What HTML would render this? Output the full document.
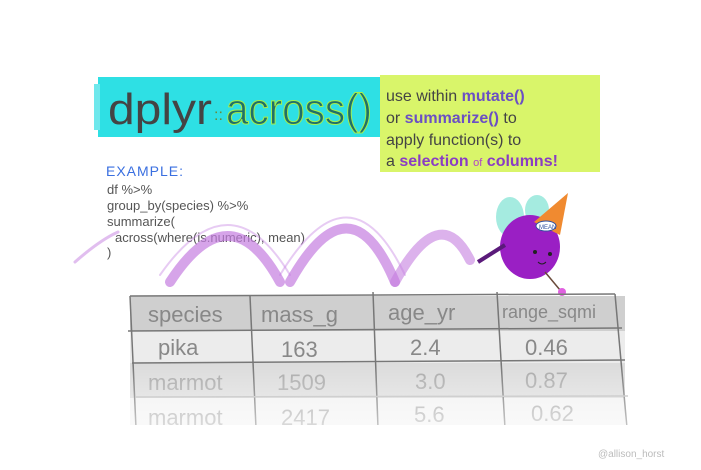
<!DOCTYPE html>
<html><head><meta charset="utf-8"><style>
html,body{margin:0;padding:0;background:#fff;}
svg{display:block;}
text{font-family:"Liberation Sans",sans-serif;}
</style></head><body>
<svg width="701" height="470" viewBox="0 0 701 470" xmlns="http://www.w3.org/2000/svg">
<defs>
<linearGradient id="fade" x1="0" y1="0" x2="0" y2="1">
<stop offset="0" stop-color="#fff" stop-opacity="0"/>
<stop offset="1" stop-color="#fff" stop-opacity="1"/>
</linearGradient>
</defs>
<rect width="701" height="470" fill="#fff"/>
<!-- cyan title box -->
<rect x="98" y="77" width="290" height="60" fill="#2ee0e4"/>
<rect x="94" y="84" width="6" height="46" fill="#6ee8ec"/>
<text x="108" y="124" font-size="44" fill="#444" textLength="104" lengthAdjust="spacingAndGlyphs">dplyr</text>
<text x="214" y="120" font-size="16" fill="#6a8a3a">::</text>
<text x="226" y="124" font-size="44" fill="#1f6f6a" stroke="#a6f04a" stroke-width="1" textLength="146" lengthAdjust="spacingAndGlyphs">across()</text>
<!-- yellow box -->
<rect x="380" y="75" width="220" height="97" fill="#d9f56a"/>
<text font-size="16" fill="#444">
<tspan x="386" y="101">use within <tspan fill="#6b4fc4" font-weight="bold">mutate()</tspan></tspan>
<tspan x="386" y="123">or <tspan fill="#6b4fc4" font-weight="bold">summarize()</tspan> to</tspan>
<tspan x="386" y="145">apply function(s) to</tspan>
<tspan x="386" y="166">a <tspan fill="#8a3cc4" font-weight="bold">selection</tspan> <tspan fill="#b044c8" font-size="11">of</tspan> <tspan fill="#8a3cc4" font-weight="bold">columns!</tspan></tspan>
</text>
<!-- example -->
<text x="106" y="176" font-size="14" fill="#3a6fe0" letter-spacing="1">EXAMPLE:</text>
<text font-size="13" fill="#555">
<tspan x="107" y="194">df %&gt;%</tspan>
<tspan x="107" y="210">group_by(species) %&gt;%</tspan>
<tspan x="107" y="226">summarize(</tspan>
<tspan x="115" y="242">across(where(is.numeric), mean)</tspan>
<tspan x="107" y="257">)</tspan>
</text>
<!-- bounce arcs -->
<g fill="none" stroke="#c47ee0" stroke-linecap="round">
<path d="M75 262 Q100 240 118 232" stroke-width="3" opacity="0.5"/>
<path d="M170 282 Q230 190 280 282" stroke-width="10" opacity="0.7"/>
<path d="M290 282 Q350 175 395 282" stroke-width="10" opacity="0.7"/>
<path d="M395 282 Q440 200 470 260" stroke-width="10" opacity="0.6"/>
<path d="M160 275 Q230 175 290 275" stroke-width="2" opacity="0.4"/>
<path d="M280 275 Q350 160 405 275" stroke-width="2" opacity="0.4"/>
</g>
<!-- creature -->
<ellipse cx="510" cy="217" rx="14" ry="20" fill="#8ee6d8" opacity="0.8"/>
<ellipse cx="537" cy="210" rx="12" ry="15" fill="#8ee6d8" opacity="0.8"/>
<ellipse cx="530" cy="247" rx="30" ry="32" fill="#9a1fc4"/>
<circle cx="535" cy="252" r="2" fill="#222"/><circle cx="550" cy="254" r="2" fill="#222"/>
<path d="M538 262 Q542 266 546 262" stroke="#222" fill="none"/>
<polygon points="534,222 568,193 560,235" fill="#f08a30"/>
<ellipse cx="546" cy="226" rx="10" ry="5" fill="#fff" stroke="#3050a0"/>
<text x="539" y="229" font-size="6" fill="#3050a0">MEAN</text>
<path d="M505 245 L478 262" stroke="#5a1a7a" stroke-width="4"/>
<path d="M545 272 L560 290" stroke="#6a4a3a" stroke-width="1.5"/>
<circle cx="562" cy="292" r="4" fill="#e060e0"/>
<!-- table -->
<rect x="130" y="296" width="495" height="35" fill="#cfcfcf"/>
<rect x="130" y="331" width="495" height="32" fill="#ececec"/>
<rect x="130" y="363" width="495" height="35" fill="#dcdcdc"/>
<rect x="130" y="398" width="495" height="30" fill="#f2f2f2"/>
<g stroke="#777" stroke-width="1.5">
<line x1="130" y1="296" x2="615" y2="294"/>
<line x1="128" y1="331" x2="622" y2="328"/>
<line x1="132" y1="363" x2="625" y2="360"/>
<line x1="130" y1="296" x2="136" y2="428"/>
<line x1="250" y1="296" x2="256" y2="428"/>
<line x1="373" y1="292" x2="378" y2="428"/>
<line x1="497" y1="292" x2="505" y2="428"/>
<line x1="615" y1="294" x2="627" y2="428"/>
</g>
<line x1="135" y1="397" x2="628" y2="396" stroke="#bbb" stroke-width="1.5"/>
<g font-size="22" fill="#888">
<text x="148" y="322">species</text><text x="261" y="322">mass_g</text>
<text x="388" y="320">age_yr</text><text x="502" y="318" font-size="18">range_sqmi</text>
<text x="158" y="355">pika</text><text x="281" y="357">163</text>
<text x="410" y="355">2.4</text><text x="525" y="355">0.46</text>
</g>
<g font-size="22" fill="#aaa">
<text x="148" y="390">marmot</text><text x="277" y="390">1509</text>
<text x="415" y="389">3.0</text><text x="525" y="388">0.87</text>
<text x="148" y="425">marmot</text><text x="281" y="425">2417</text>
<text x="414" y="422">5.6</text><text x="531" y="421">0.62</text>
</g>
<rect x="120" y="365" width="520" height="65" fill="url(#fade)" opacity="0.6"/>
<rect x="120" y="425" width="520" height="10" fill="#fff"/>
<text x="598" y="457" font-size="10" fill="#bbb">@allison_horst</text>
</svg>
</body></html>
